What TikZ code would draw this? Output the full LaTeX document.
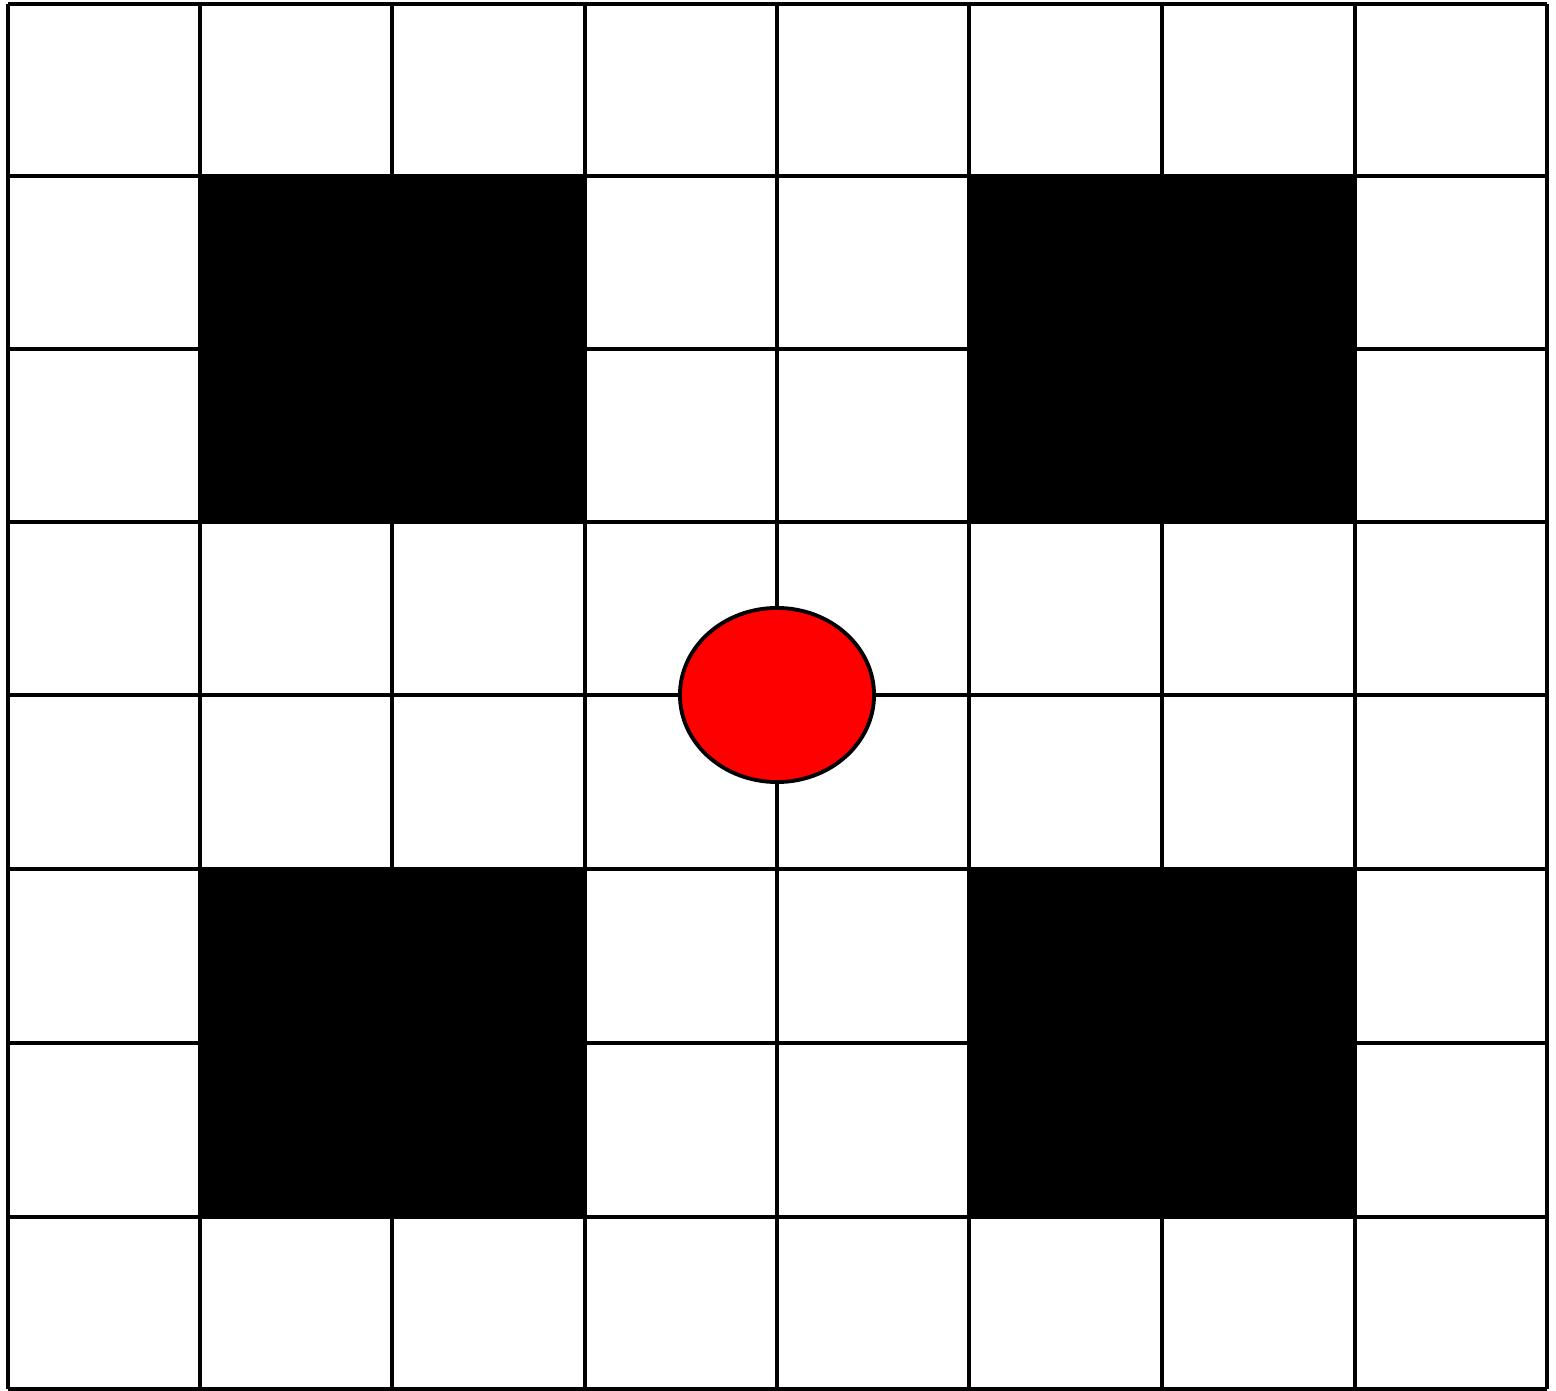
\documentclass[tikz,border=0pt]{standalone}
\usetikzlibrary{shapes.geometric}
\begin{document}
\begin{tikzpicture}[x=0.01cm,y=-0.01cm,
  gridline/.style={line width=1.1pt,black},
  block/.style={fill=black,draw=black,line width=1.1pt},
  ball/.style={ellipse,fill=red,draw=black,line width=1.1pt,minimum width=1.94cm,minimum height=1.74cm,inner sep=0pt}]
\useasboundingbox[fill=white] (0,0) rectangle (1556,1391);
\foreach \x in {8,200,392,585,777,969,1162,1355,1547}
  \draw[gridline] (\x,4) -- (\x,1389);
\foreach \y in {4,176,349,522,695,869,1043,1217,1389}
  \draw[gridline] (8,\y) -- (1547,\y);
\draw[block] (200,176) rectangle (585,522);
\draw[block] (969,176) rectangle (1355,522);
\draw[block] (200,869) rectangle (585,1217);
\draw[block] (969,869) rectangle (1355,1217);
\node[ball] (ball) at (777,695) {};
\end{tikzpicture}
\end{document}
